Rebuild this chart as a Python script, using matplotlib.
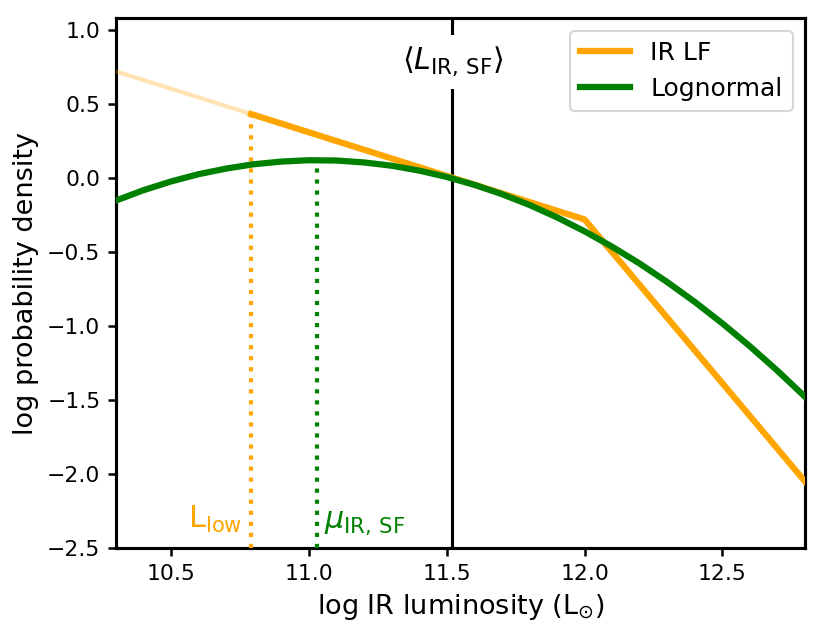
import matplotlib
matplotlib.use("Agg")
import matplotlib.pyplot as plt

# IR luminosity function (broken power law in log space)
lf_x = [10.79, 12.0, 12.8]
lf_y = [0.432, -0.28, -2.05]
lf_faint_x = [10.3, 10.79]
lf_faint_y = [0.72, 0.432]

# Lognormal curve
ln_x = [10.3, 10.4, 10.5, 10.6, 10.7, 10.8, 10.9, 11.0, 11.1, 11.2, 11.3, 11.4, 11.5,
        11.6, 11.7, 11.8, 11.9, 12.0, 12.1, 12.2, 12.3, 12.4, 12.5, 12.6, 12.7, 12.8]
ln_y = [-0.152, -0.082, -0.023, 0.026, 0.064, 0.093, 0.111, 0.120, 0.118, 0.105, 0.083,
        0.050, 0.007, -0.046, -0.109, -0.182, -0.266, -0.360, -0.464, -0.578, -0.703,
        -0.837, -0.982, -1.137, -1.302, -1.478]

L_low = 10.79
L_low_y = 0.432
mu_ir = 11.03
mu_peak = 0.12
L_mean = 11.52

xticks = [10.5, 11.0, 11.5, 12.0, 12.5]
yticks = [-2.5, -2.0, -1.5, -1.0, -0.5, 0.0, 0.5, 1.0]

fig = plt.figure(figsize=(830/150, 623/150), dpi=150)
ax = fig.add_axes([0.1398, 0.120, 0.970-0.1398, 0.971-0.120])

ymin, ymax = -2.5, 1.08
ax.axvline(L_mean, color='black', lw=1.5, zorder=1)
ax.text(L_mean, 0.785, r'$\langle L_{\rm IR,\,SF}\rangle$', fontsize=14.5,
        ha='center', va='center', zorder=2,
        bbox=dict(facecolor='white', edgecolor='none', pad=5))

ax.plot(lf_faint_x, lf_faint_y, color='orange', alpha=0.3, lw=2, zorder=3)
ax.plot(lf_x, lf_y, color='orange', lw=3, label='IR LF', zorder=4)
ax.plot(ln_x, ln_y, color='green', lw=3, label='Lognormal', zorder=5)

ax.plot([L_low, L_low], [ymin, L_low_y], color='orange', lw=2, ls=':', zorder=3)
ax.plot([mu_ir, mu_ir], [ymin, mu_peak], color='green', lw=2, ls=':', zorder=3)

ax.text(10.757, -2.365, r'$\rm L_{low}$', color='orange', fontsize=14.5,
        ha='right', va='baseline')
ax.text(11.055, -2.365, r'$\mu_{\rm IR,\,SF}$', color='green', fontsize=14.5,
        ha='left', va='baseline')

ax.set_xlim(10.3, 12.8)
ax.set_ylim(ymin, ymax)
ax.set_xticks(xticks)
ax.set_yticks(yticks)
ax.tick_params(labelsize=10.5, width=1.2, length=4)
for s in ax.spines.values():
    s.set_linewidth(1.5)

ax.set_xlabel(r'log IR luminosity (L$_{\odot}$)', fontsize=13)
ax.set_ylabel('log probability density', fontsize=13)
ax.legend(loc='upper right', fontsize=12)

fig.savefig('out.png', dpi=150)
